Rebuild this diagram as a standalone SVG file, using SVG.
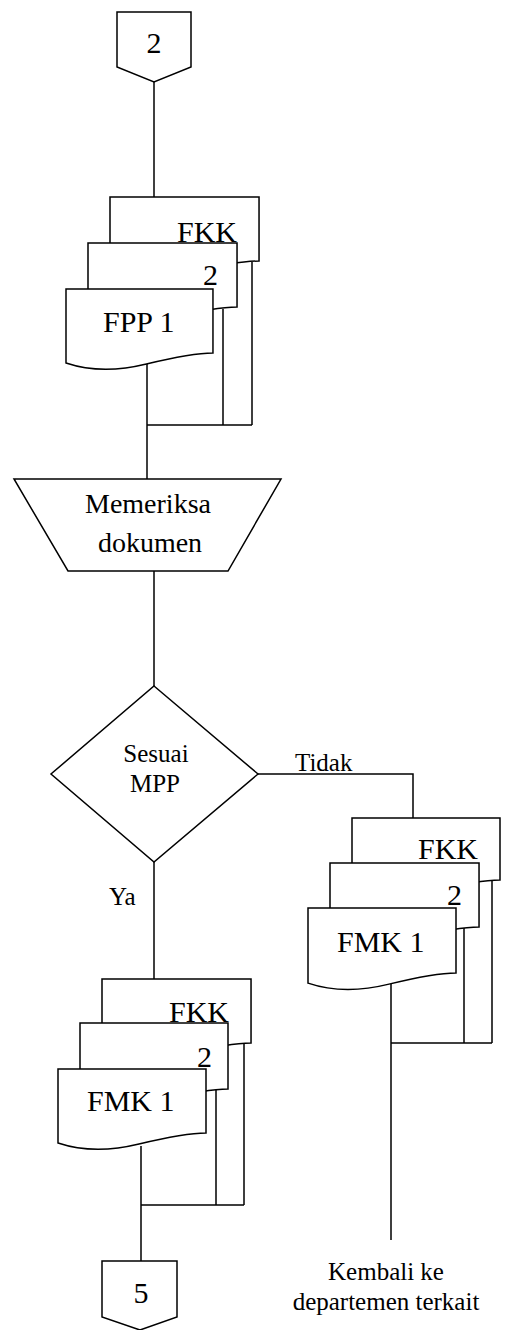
<svg xmlns="http://www.w3.org/2000/svg" xmlns:xlink="http://www.w3.org/1999/xlink" width="505" height="1330" viewBox="0 0 505 1330">
<style>
.s{fill:#fff;stroke:#000;stroke-width:1.5;stroke-linejoin:miter}
.c{fill:none;stroke:#000;stroke-width:1.5}
.t{font-family:"Liberation Serif","Times New Roman",serif;fill:#000}
.d{font-size:30px}
.m{font-size:28px}
.n{font-size:25px}
</style>
<defs>
<path id="doc" d="M0,0 H148 V64 Q127,64 81,75 Q36,86 0,74 Z"/>
</defs>
<rect width="505" height="1330" fill="#fff"/>
<g id="connectors" class="c">
<path d="M154,82 V197"/>
<path d="M147,364 V479"/>
<path d="M223,309 V425 M252,262 V425 M147,425 H252"/>
<path d="M154,571 V686"/>
<path d="M258,774 H413 V818"/>
<path d="M154,862 V979"/>
<path d="M391,984 V1240 M464,928 V1043 M492,881 V1043 M391,1043 H492"/>
<path d="M141,1146 V1261 M216,1090 V1205 M244,1044 V1205 M141,1205 H244"/>
</g>
<g id="conn2">
<path class="s" d="M117,12 H191 V67 L154,82 L117,67 Z"/>
<text class="t d" x="154" y="53" text-anchor="middle">2</text>
</g>
<g id="docs-top">
<use href="#doc" xlink:href="#doc" class="s" transform="translate(110,197) scale(1.007,1)"/>
<text class="t d" x="177" y="242">FKK</text>
<use href="#doc" xlink:href="#doc" class="s" transform="translate(88,243) scale(1.007,1)"/>
<text class="t d" x="203" y="285">2</text>
<use href="#doc" xlink:href="#doc" class="s" transform="translate(66,289) scale(0.993,1)"/>
<text class="t d" x="103" y="332">FPP 1</text>
</g>
<g id="memeriksa">
<path class="s" d="M14,479 H281 L228,571 H68 Z"/>
<text class="t m" x="148" y="513" text-anchor="middle">Memeriksa</text>
<text class="t m" x="150" y="552" text-anchor="middle">dokumen</text>
</g>
<g id="sesuai">
<path class="s" d="M154,686 L258,774 L154,862 L51,774 Z"/>
<text class="t n" x="156" y="762" text-anchor="middle">Sesuai</text>
<text class="t n" x="155" y="792" text-anchor="middle">MPP</text>
</g>
<g id="labels">
<text class="t n" x="295" y="771">Tidak</text>
<text class="t n" x="109" y="905">Ya</text>
</g>
<g id="docs-right">
<use href="#doc" xlink:href="#doc" class="s" transform="translate(352,818) scale(1,0.97)"/>
<text class="t d" x="418" y="859">FKK</text>
<use href="#doc" xlink:href="#doc" class="s" transform="translate(330,863) scale(1.007,1)"/>
<text class="t d" x="447" y="905">2</text>
<use href="#doc" xlink:href="#doc" class="s" transform="translate(308,908) scale(1,1.015)"/>
<text class="t d" x="337" y="952">FMK 1</text>
</g>
<g id="docs-left">
<use href="#doc" xlink:href="#doc" class="s" transform="translate(102,979) scale(1.007,1)"/>
<text class="t d" x="169" y="1022">FKK</text>
<use href="#doc" xlink:href="#doc" class="s" transform="translate(80,1023) scale(1,1.03)"/>
<text class="t d" x="197" y="1067">2</text>
<use href="#doc" xlink:href="#doc" class="s" transform="translate(58,1069)"/>
<text class="t d" x="87" y="1111">FMK 1</text>
</g>
<g id="conn5">
<path class="s" d="M102,1261 H177 V1317 L140,1330 L102,1317 Z"/>
<text class="t d" x="141" y="1303" text-anchor="middle">5</text>
</g>
<g id="kembali">
<text class="t n" x="386" y="1280" text-anchor="middle">Kembali ke</text>
<text class="t n" x="386" y="1310" text-anchor="middle">departemen terkait</text>
</g>
</svg>
